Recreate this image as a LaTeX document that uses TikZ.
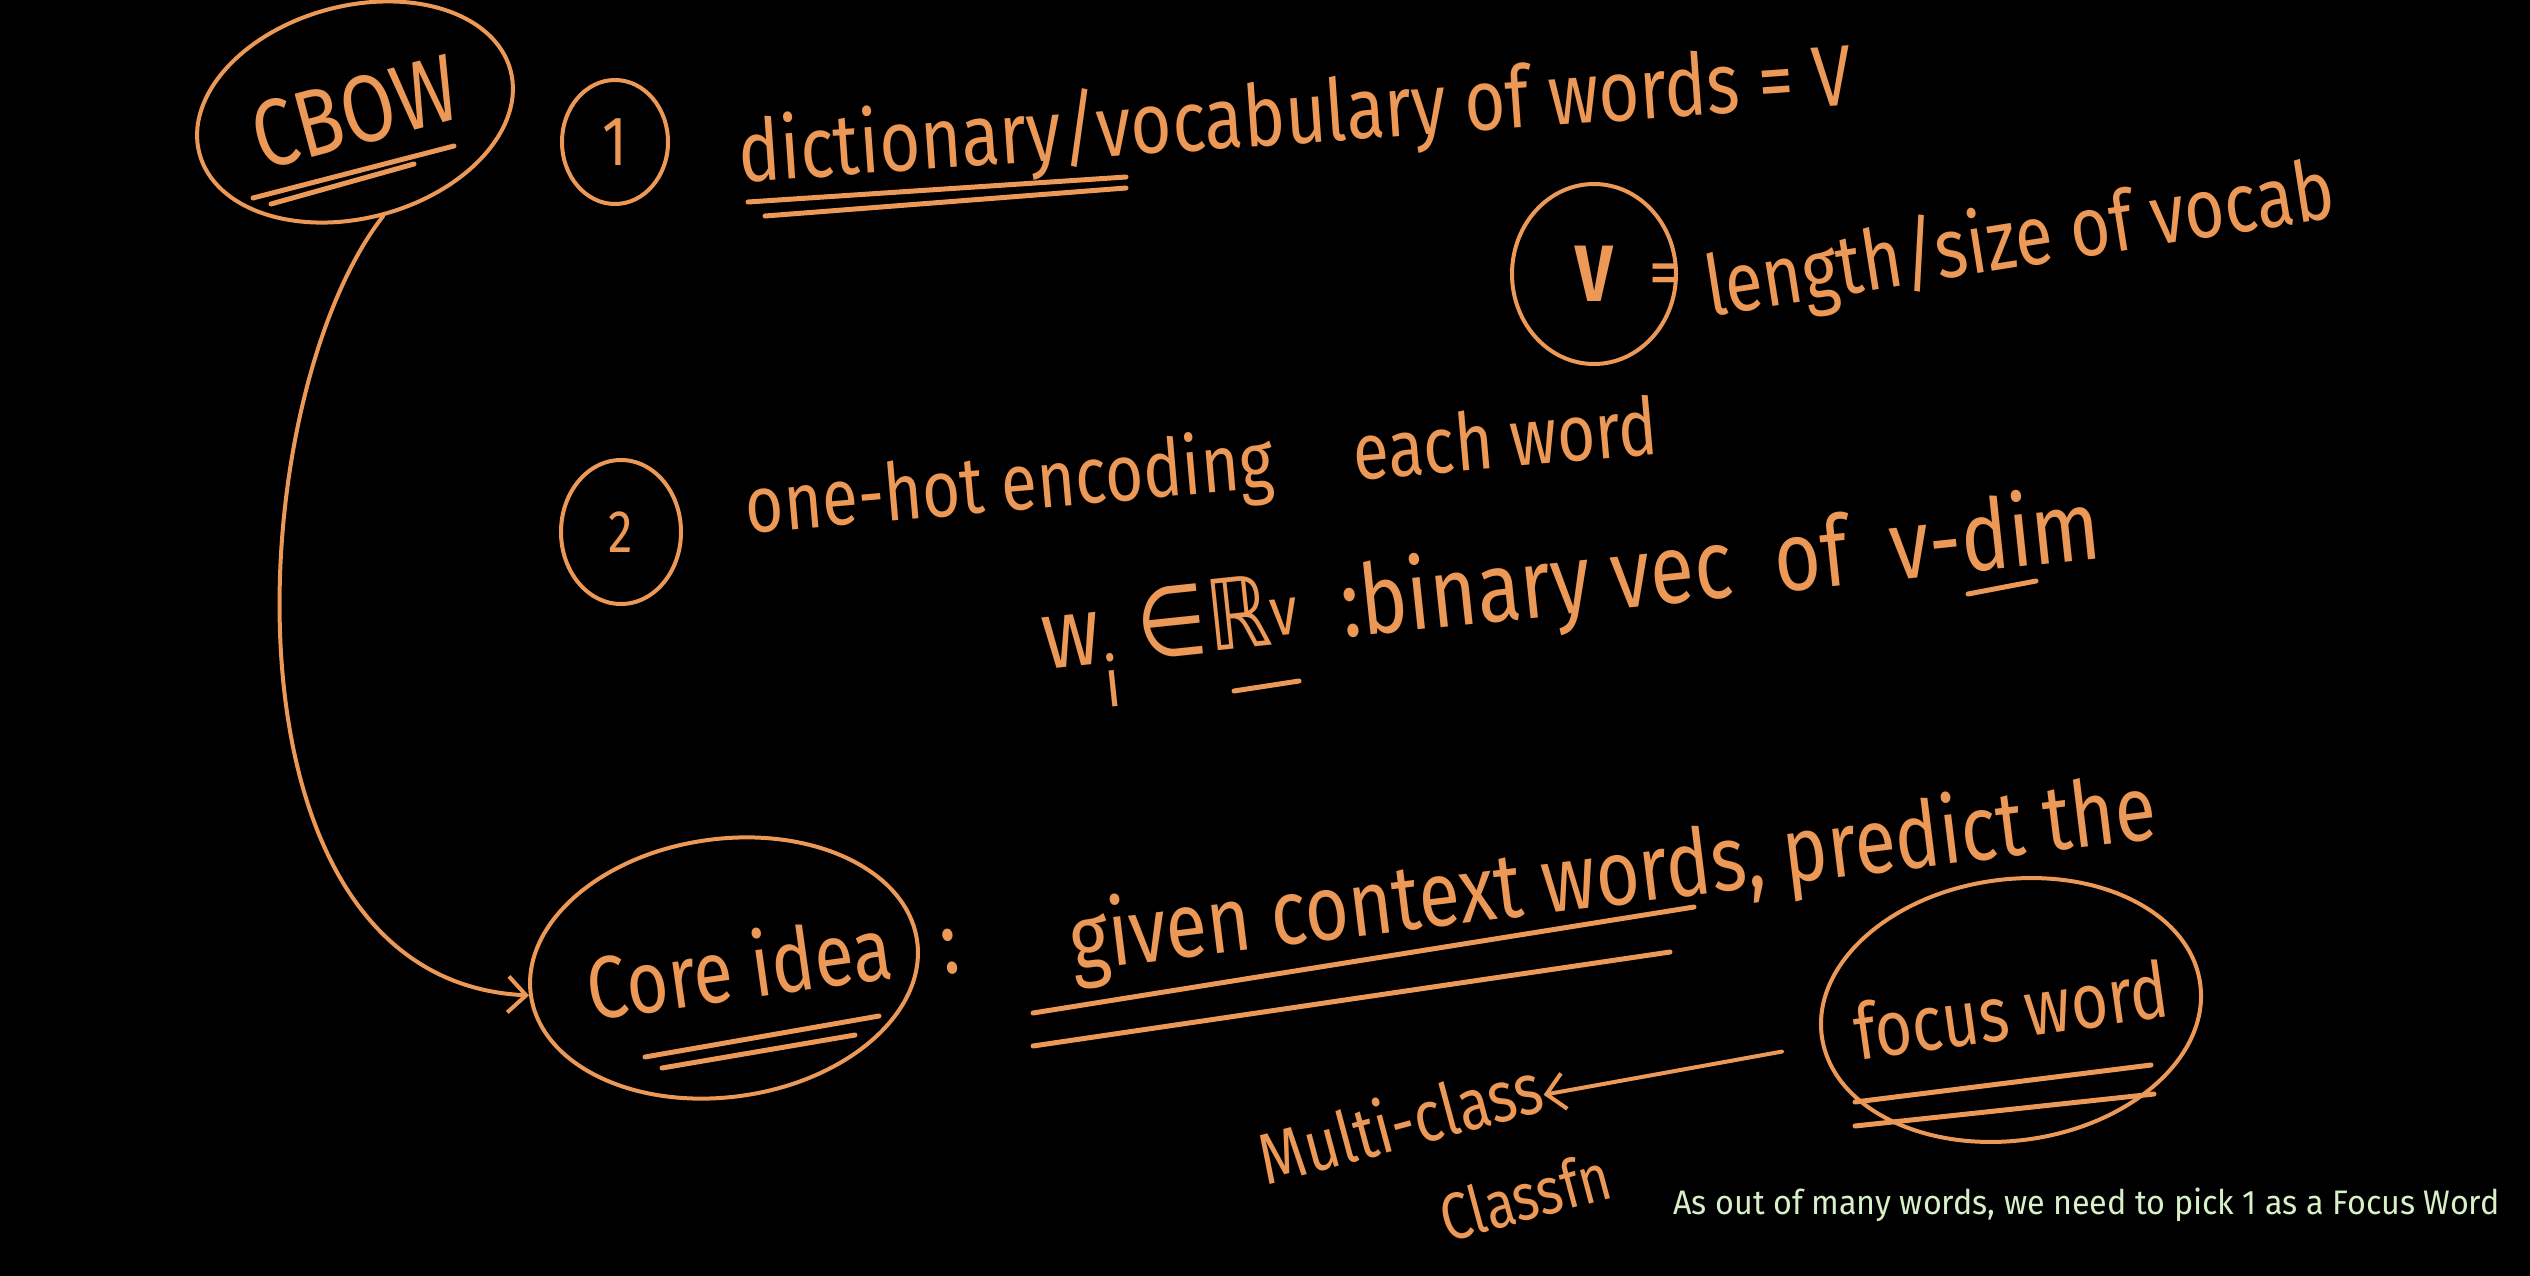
\documentclass[tikz,border=0pt]{standalone}
\usepackage{fontspec}
\setmainfont{Fira Sans}
\newfontfamily\hand{Fira Sans}[FakeStretch=0.82]
\newfontfamily\handsym{DejaVu Sans}[FakeStretch=0.82]
\newfontfamily\capfont{Fira Sans}[FakeStretch=0.95]
\usetikzlibrary{shapes.geometric,arrows.meta}
\definecolor{hw}{RGB}{236,152,86}
\definecolor{capgreen}{RGB}{216,240,200}
\tikzset{
  hwtext/.style={text=hw, font=\hand\fontsize{#1}{#1}\selectfont, inner sep=0pt},
  hwell/.style={ellipse, draw=hw, line width=4pt, inner sep=0pt},
  hwline/.style={draw=hw, line width=5pt, line cap=round},
  arr/.style={draw=hw, line width=4pt, line cap=round, -{Straight Barb[length=18pt,width=36pt]}},
}
\begin{document}
\begin{tikzpicture}[x=1pt,y=-1pt]
\fill[black] (0,0) rectangle (2530,1276);
\useasboundingbox (0,0) rectangle (2530,1276);

% CBOW
\node[hwell, hwtext=95, minimum width=322, minimum height=212, rotate=15] (cbow) at (355,112) {\makebox[0pt]{CBOW}};
\draw[hwline] (253,198) -- (454,146);
\draw[hwline] (271,204) -- (414,164);

% step 1
\node[hwell, hwtext=70, minimum width=106, minimum height=124] (one) at (615,142) {1};
\node[hwtext=86, rotate=4] (dict) at (1295,118) {dictionary/vocabulary of words = V};
\draw[hwline] (748,202) -- (1126,177);
\draw[hwline] (765,216) -- (1126,188);

% V circle
\node[hwell, text=hw, font={\hand\bfseries\fontsize{80}{80}\selectfont}, minimum width=164, minimum height=180] (vc) at (1594,274) {V};
\node[hwtext=70] (eq) at (1664,280) {=};
\node[hwtext=84, rotate=9] (len) at (2020,242) {length/size of vocab};

% step 2
\node[hwell, hwtext=60, minimum width=120, minimum height=144] (two) at (621,532) {2};
\node[hwtext=80, rotate=5] (onehot) at (1202,471) {one-hot encoding\quad each word};
\node[hwtext=98, rotate=6] (wi) at (1573,598) {w\textsubscript{i}\ {\handsym ∈ℝ}\textsuperscript{v}\ \ :binary vec\ \ of\ \ v-dim};
\draw[hwline] (1234,691) -- (1299,681);
\draw[hwline] (1968,594) -- (2036,581);

% core idea
\node[hwell, hwtext=88, minimum width=390, minimum height=258, rotate=8] (core) at (724,968) {\makebox[0pt]{\hspace{30pt}Core idea}};
\node[hwtext=90, rotate=8] (colon) at (950,952) {:};
\draw[hwline] (645,1057) -- (879,1016);
\draw[hwline] (662,1068) -- (855,1035);

\node[hwtext=92, rotate=7] (given) at (1613,879) {given context words, predict the};
\draw[hwline] (1033,1013) -- (1694,907);
\draw[hwline] (1033,1046) -- (1670,952);

% focus word
\node[hwell, hwtext=78, minimum width=382, minimum height=261, rotate=8] (focus) at (2011,1010) {\makebox[0pt]{focus word}};
\draw[hwline] (1855,1102) -- (2151,1065);
\draw[hwline] (1855,1126) -- (2154,1094);

% multi-class
\node[hwtext=72, rotate=15] (multi) at (1400,1121) {Multi-class};
\node[hwtext=66, rotate=15] (classfn) at (1525,1196) {Classfn};

% connectors
\draw[arr, shorten <=40pt] (focus) -- (multi);
\draw[arr] (cbow.south) .. controls (240,400) and (210,980) .. (core.west);

% caption
\node[anchor=west, text=capgreen, font=\capfont\fontsize{34}{34}\selectfont, inner sep=0pt] (cap) at (1673,1205) {As out of many words, we need to pick 1 as a Focus Word};
\end{tikzpicture}
\end{document}
